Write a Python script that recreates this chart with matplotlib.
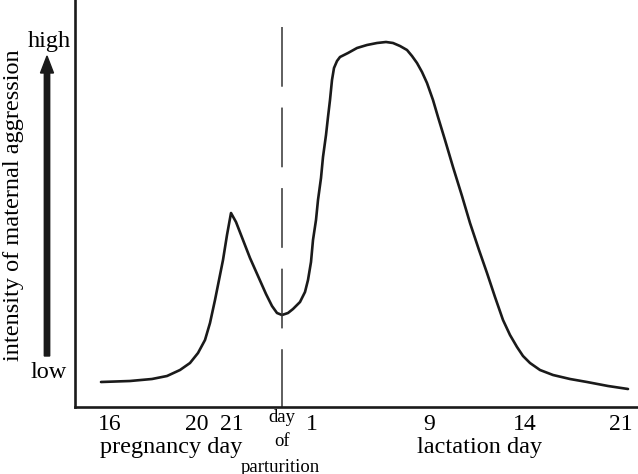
import matplotlib
matplotlib.use("Agg")
import matplotlib.pyplot as plt

plt.rcParams['font.family'] = ['Liberation Serif', 'DejaVu Serif']
plt.rcParams['lines.scale_dashes'] = False

# curve (x = time axis position, y = intensity, arbitrary units)
curve_x = [101, 130, 152, 167, 180, 190, 198, 205, 210, 215, 219, 223, 227, 231,
           236, 243, 250, 258, 266, 272, 277, 282, 288, 293, 300, 305, 308, 311,
           313, 316, 318, 321, 323, 326, 328, 330, 332, 334, 337, 340, 348, 357,
           367, 377, 386, 393, 400, 407, 412, 417, 422, 427, 433, 438, 445, 453,
           462, 470, 479, 487, 495, 503, 510, 517, 523, 530, 540, 553, 570, 587,
           608, 628]
curve_y = [25, 26, 28, 31, 37, 44, 54, 67, 84, 107, 127, 147, 172, 194,
           185, 167, 149, 131, 113, 101, 94, 92, 94, 98, 105, 115, 127, 145,
           167, 187, 207, 229, 250, 272, 290, 307, 327, 339, 346, 350, 354, 359,
           362, 364, 365, 364, 361, 357, 351, 344, 335, 324, 307, 290, 267, 240,
           211, 184, 157, 134, 110, 87, 72, 60, 51, 44, 37, 32, 28, 25,
           21, 18]

tick_pos = [110, 197, 232, 312, 429, 525, 621]
tick_labels = ['16', '20', '21', '1', '9', '14', '21']
parturition_x = 282

W, H = 638, 474
fig = plt.figure(figsize=(W / 100, H / 100), dpi=100)
ax = fig.add_axes([75 / W, (H - 407) / H, (W - 75) / W, 407 / H])
ax.set_xlim(75, 638)
ax.set_ylim(0, 407)

ax.plot(curve_x, curve_y, color='#1a1a1a', lw=1.9, solid_capstyle='round')
ax.plot([parturition_x, parturition_x], [380, 0], color='#333333', lw=1.1,
        dashes=(43, 15))

for s in ['top', 'right']:
    ax.spines[s].set_visible(False)
for s in ['left', 'bottom']:
    ax.spines[s].set_linewidth(1.9)
    ax.spines[s].set_color('#1a1a1a')

ax.set_xticks(tick_pos)
ax.set_xticklabels(tick_labels, fontsize=17)
ax.tick_params(axis='x', length=0, pad=5)
ax.set_yticks([])

def fx(px):
    return px / W

def fy(py):
    return 1 - py / H

fig.text(fx(282), fy(417), 'day', fontsize=13.5, ha='center', va='center')
fig.text(fx(282), fy(442), 'of', fontsize=13.5, ha='center', va='center')
fig.text(fx(280), fy(467), 'parturition', fontsize=13.5, ha='center', va='center')
fig.text(fx(171), fy(447), 'pregnancy day', fontsize=17.5, ha='center', va='center')
fig.text(fx(480), fy(447), 'lactation day', fontsize=17.5, ha='center', va='center')

fig.text(fx(49), fy(42), 'high', fontsize=17.5, ha='center', va='center')
fig.text(fx(49), fy(372), 'low', fontsize=17.5, ha='center', va='center')
fig.text(fx(14), fy(205), 'intensity of maternal aggression', fontsize=17.5,
         ha='center', va='center', rotation=90)

fig.patches.append(matplotlib.patches.FancyArrow(
    fx(47), fy(356), 0, fy(56) - fy(356), width=4 / H, head_width=13 / W,
    head_length=17 / H, length_includes_head=True, color='#1a1a1a',
    transform=fig.transFigure, figure=fig))

fig.savefig('out.png', dpi=100)
